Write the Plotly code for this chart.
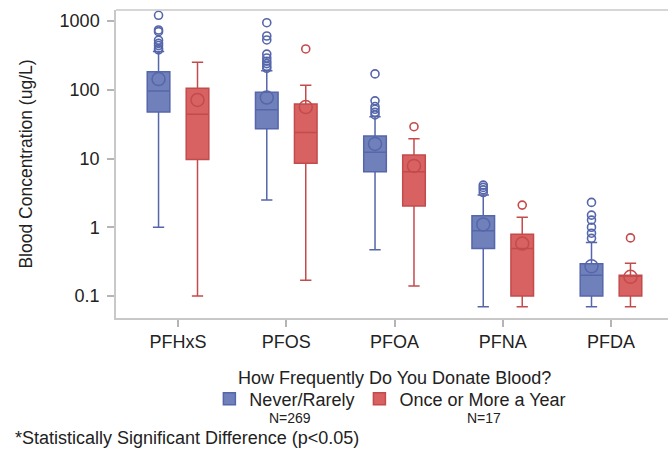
import plotly.graph_objects as go

categories = ["PFHxS", "PFOS", "PFOA", "PFNA", "PFDA"]

# Never/Rarely (N=269)
never_q1 = [47.5, 27, 6.4, 0.49, 0.1]
never_median = [96, 51, 12.3, 0.89, 0.2]
never_q3 = [183, 92, 21.2, 1.47, 0.295]
never_low = [1.0, 2.5, 0.47, 0.07, 0.07]
never_high = [360, 189, 40.6, 2.94, 0.6]
never_mean = [143, 77, 16.3, 1.1, 0.27]
never_outliers = {
    "PFHxS": [1210, 740, 700, 525, 473, 440, 400, 380],
    "PFOS": [945, 605, 530, 330, 290, 260, 240, 220, 205],
    "PFOA": [170, 69, 57, 52, 47, 43],
    "PFNA": [4.1, 3.8, 3.5, 3.2],
    "PFDA": [2.3, 1.5, 1.27, 1.0, 0.82, 0.69],
}

# Once or More a Year (N=17)
once_q1 = [9.7, 8.5, 2.04, 0.1, 0.1]
once_median = [44, 23.8, 6.4, 0.49, 0.2]
once_q3 = [105, 62, 11.2, 0.79, 0.2]
once_low = [0.1, 0.17, 0.14, 0.07, 0.07]
once_high = [251, 116, 19.4, 1.4, 0.3]
once_mean = [71, 56, 7.8, 0.58, 0.19]
once_outliers = {
    "PFOS": [392],
    "PFOA": [29],
    "PFNA": [2.1],
    "PFDA": [0.7],
}

legend_title = "How Frequently Do You Donate Blood?"
group_counts = ["N=269", "N=17"]
footnote = "*Statistically Significant Difference (p<0.05)"

series = [
    dict(name="Never/Rarely", group="never", fill="rgba(92,110,178,0.88)", line="#5566aa",
         q1=never_q1, med=never_median, q3=never_q3, lo=never_low, hi=never_high,
         mean=never_mean, out=never_outliers),
    dict(name="Once or More a Year", group="once", fill="rgba(212,80,80,0.9)", line="#c44b4b",
         q1=once_q1, med=once_median, q3=once_q3, lo=once_low, hi=once_high,
         mean=once_mean, out=once_outliers),
]

FONT = "Liberation Sans, Arial, sans-serif"
AXIS_GRAY = "#c8c8c8"
fig = go.Figure()

for s in series:
    fig.add_trace(go.Box(
        x=categories, q1=s["q1"], median=s["med"], q3=s["q3"],
        lowerfence=s["lo"], upperfence=s["hi"],
        name=s["name"], offsetgroup=s["group"], alignmentgroup="all",
        fillcolor=s["fill"], line=dict(color=s["line"], width=1.5),
        whiskerwidth=0.5, boxpoints=False, showlegend=True,
    ))

for s in series:
    ox, oy = [], []
    for c in categories:
        for v in s["out"].get(c, []):
            ox.append(c)
            oy.append(v)
    fig.add_trace(go.Box(
        x=ox, y=oy, offsetgroup=s["group"], alignmentgroup="all",
        boxpoints="all", jitter=0, pointpos=0,
        fillcolor="rgba(0,0,0,0)", line=dict(color="rgba(0,0,0,0)", width=0),
        marker=dict(symbol="circle-open", size=8, color=s["line"], line=dict(width=1.6)),
        showlegend=False, hoverinfo="y",
    ))
    fig.add_trace(go.Box(
        x=categories, y=s["mean"], offsetgroup=s["group"], alignmentgroup="all",
        boxpoints="all", jitter=0, pointpos=0,
        fillcolor="rgba(0,0,0,0)", line=dict(color="rgba(0,0,0,0)", width=0),
        marker=dict(symbol="circle-open", size=13, color=s["line"], line=dict(width=1.5)),
        showlegend=False, hoverinfo="y",
    ))

# Plot area extends slightly past the 668 px window so its right edge is cropped,
# as in the reference image.
fig.update_layout(
    width=690, height=453,
    margin=dict(l=116, r=0, t=10, b=135),
    paper_bgcolor="white", plot_bgcolor="white",
    boxmode="group", boxgap=0.28, boxgroupgap=0.42,
    font=dict(family=FONT, size=18, color="#222222"),
    showlegend=True,
    legend=dict(
        orientation="h", x=0.478, xanchor="center", y=-0.263, yanchor="middle",
        font=dict(size=18), bgcolor="rgba(0,0,0,0)", traceorder="normal",
        itemwidth=30,
    ),
    xaxis=dict(
        type="category", range=[-0.573, 4.730],
        showline=True, linecolor=AXIS_GRAY, linewidth=1.5, mirror=False,
        ticks="outside", ticklen=7, tickcolor="#b5b5b5", tickwidth=1.5,
        showgrid=False, zeroline=False,
        tickfont=dict(size=18),
    ),
    yaxis=dict(
        type="log", range=[-1.32, 3.16],
        tickvals=[0.1, 1, 10, 100, 1000], ticktext=["0.1", "1", "10", "100", "1000"],
        showline=True, linecolor=AXIS_GRAY, linewidth=1.5, mirror=False,
        ticks="outside", ticklen=7, tickcolor="#b5b5b5", tickwidth=1.5,
        ticklabelstandoff=4,
        showgrid=False, zeroline=False,
        tickfont=dict(size=18),
        title=dict(text="Blood Concentration (ug/L)", font=dict(size=17.5), standoff=22),
    ),
    shapes=[
        dict(type="line", xref="paper", yref="paper", x0=0, x1=1, y0=1, y1=1,
             line=dict(color=AXIS_GRAY, width=1.5)),
    ],
    annotations=[
        dict(text=legend_title, x=0.4857, y=-0.195, xref="paper", yref="paper",
             showarrow=False, font=dict(size=18), xanchor="center", yanchor="middle"),
        dict(text=group_counts[0], x=0.303, y=-0.325, xref="paper", yref="paper",
             showarrow=False, font=dict(size=14), xanchor="center", yanchor="middle"),
        dict(text=group_counts[1], x=0.6415, y=-0.325, xref="paper", yref="paper",
             showarrow=False, font=dict(size=14), xanchor="center", yanchor="middle"),
        dict(text=footnote, x=-0.1794, y=-0.39,
             xref="paper", yref="paper", showarrow=False, font=dict(size=18),
             xanchor="left", yanchor="middle"),
    ],
)

fig.write_html(
    "out.html",
    config={"displayModeBar": False},
    post_script="document.body.style.margin='0px';document.body.style.overflow='hidden';document.documentElement.style.overflow='hidden';",
)
